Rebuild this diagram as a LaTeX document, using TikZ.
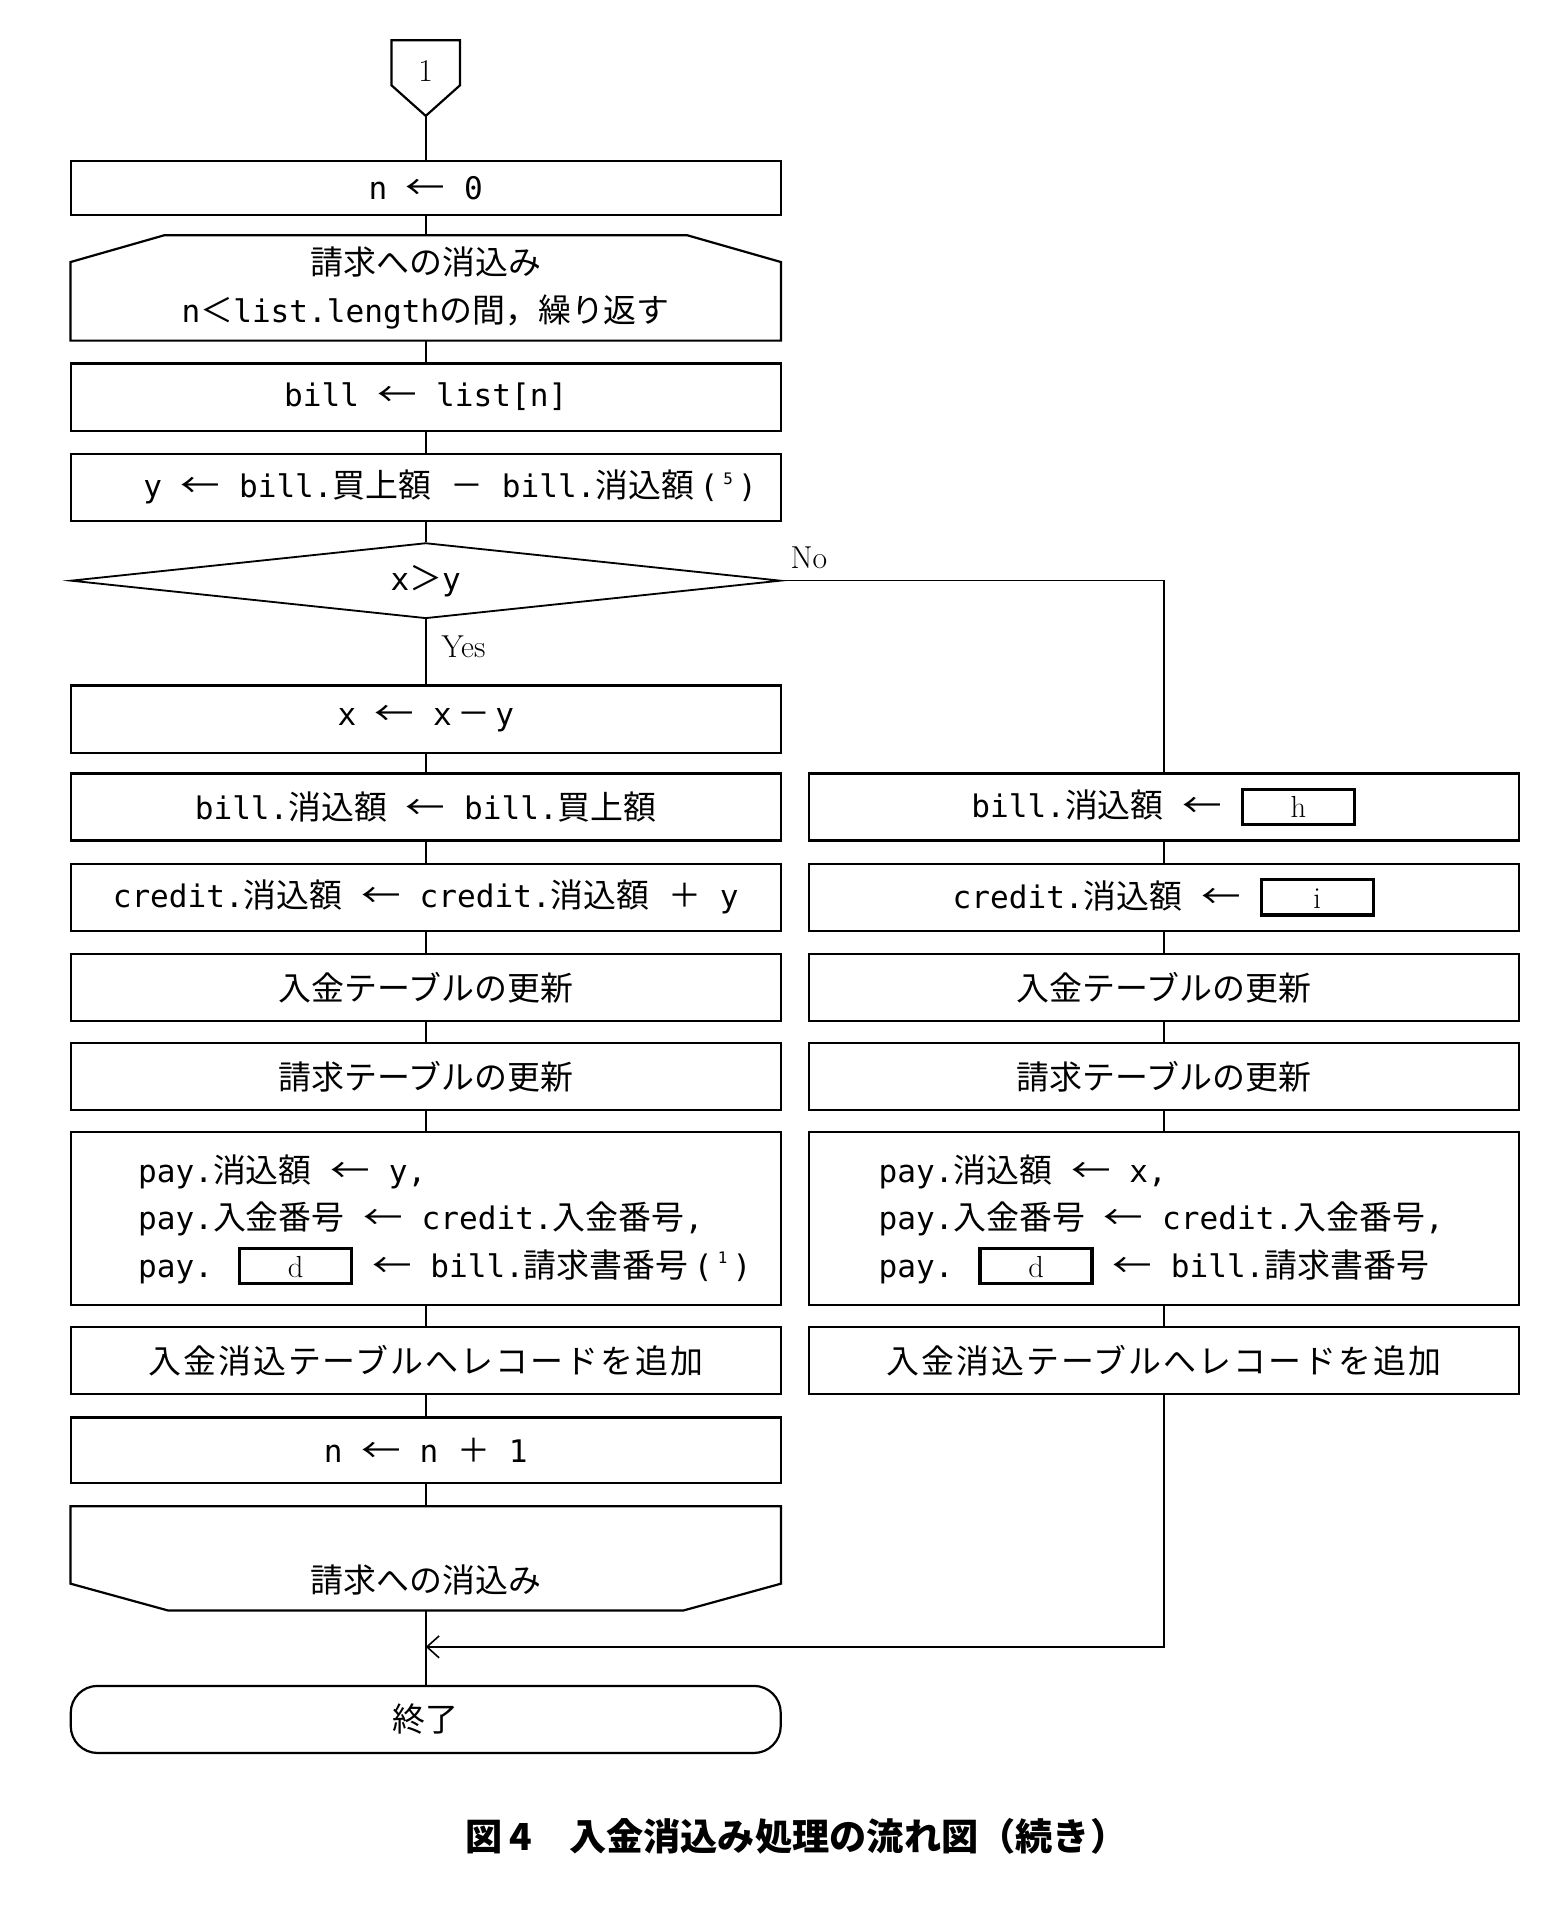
\documentclass[tikz,border=0pt]{standalone}
\usepackage{fontspec}
\usepackage{graphicx}
\usetikzlibrary{shapes.geometric,calc,arrows.meta}
\newfontfamily\jpfont{Noto Sans CJK JP}
\newfontfamily\jpwide{Noto Sans CJK JP}[LetterSpace=6]
\newfontfamily\monofont{DejaVu Sans Mono}
\newcommand\J[1]{{\jpfont\fontsize{27}{39}\selectfont #1}}
\newcommand\la{\scalebox{1.2}[1]{\J{←}}}
\newcommand\codefont{\monofont\fontsize{25.5}{39}\selectfont}
\newcommand\blank[1]{{\setlength{\fboxrule}{2.8pt}\setlength{\fboxsep}{0pt}\fbox{\makebox[89pt]{\rule[-4pt]{0pt}{26pt}\fontsize{25}{25}\selectfont\rmfamily #1}}}}
\newcommand\note[1]{\,(\,\raisebox{11pt}{\fontsize{13}{13}\selectfont #1}\,)}
\begin{document}
\begin{tikzpicture}[x=1pt,y=-1pt,
  box/.style={draw,line width=1.8pt,minimum width=582pt,inner sep=0pt,font=\codefont},
  shapeline/.style={line width=1.8pt},
  conn/.style={line width=1.3pt},
  lbl/.style={font=\rmfamily\fontsize{26}{26}\selectfont,inner sep=0pt},
  txt/.style={font=\codefont,inner sep=0pt}]
\useasboundingbox (0,0) rectangle (1267,1569);

% connector 1
\node[lbl] (c1) at (349,58) {1};
\draw[shapeline] ($(c1)+(-28,-25)$) -- ($(c1)+(28,-25)$) -- ($(c1)+(28,12)$) -- ($(c1)+(0,37)$) coordinate (c1tip) -- ($(c1)+(-28,12)$) -- cycle;

\node[box,minimum height=44pt] (n0) at (349,154) {n \la{} 0};

% loop start
\node[txt,minimum width=582pt,minimum height=86pt,align=center] (loopA) at (349,236) {\J{請求への消込み}\\n\J{＜}list.length\J{の間，繰り返す}};
\draw[shapeline] (loopA.south west) -- ($(loopA.north west)+(0,22)$) -- ($(loopA.north west)+(77,0)$) -- ($(loopA.north east)+(-77,0)$) -- ($(loopA.north east)+(0,22)$) -- (loopA.south east) -- cycle;

\node[box,minimum height=55pt] (bl) at (349,325.5) {bill \la{} list[n]};
\node[box,minimum height=55pt] (by) at (349,399.5) {\hspace*{40pt}y \la{} bill.\J{買上額} \J{－} bill.\J{消込額}\note{5}};

\node[draw,diamond,aspect=10,minimum width=582pt,minimum height=62pt,inner sep=0pt,line width=1.5pt,font=\codefont] (dec) at (349,476) {x\J{＞}y};
\node[lbl] (no) at (663,457) {No};
\node[lbl] (yes) at (380,530) {Yes};

\node[box,minimum height=55pt] (bx) at (349,589.5) {x \la{} x\,\J{－}\,y};

% left column
\node[box,minimum height=55pt] (L1) at (349,661.5) {bill.\J{消込額} \la{} bill.\J{買上額}};
\node[box,minimum height=55pt] (L2) at (349,735.5) {credit.\J{消込額} \la{} credit.\J{消込額} \J{＋} y};
\node[box,minimum height=55pt] (L3) at (349,809.5) {\J{入金テーブルの更新}};
\node[box,minimum height=55pt] (L4) at (349,882.5) {\J{請求テーブルの更新}};
\node[box,minimum height=142pt] (L5) at (349,999) {};
\node[txt,align=left,anchor=west] (L5t) at (113,1000) {pay.\J{消込額} \la{} y,\\pay.\J{入金番号} \la{} credit.\J{入金番号},\\pay. \blank{d} \la{} bill.\J{請求書番号}\note{1}};
\node[box,minimum height=55pt] (L6) at (349,1115.5) {{\jpwide\fontsize{27}{39}\selectfont 入金消込テーブルへレコードを追加}};
\node[box,minimum height=54pt] (L7) at (349,1189) {n \la{} n \J{＋} 1};

% loop end
\node[minimum width=582pt,minimum height=85pt,inner sep=0pt] (loopB) at (349,1277.5) {};
\draw[shapeline] (loopB.north west) -- (loopB.north east) -- ($(loopB.south east)+(0,-22)$) -- ($(loopB.south east)+(-80,0)$) -- ($(loopB.south west)+(80,0)$) -- ($(loopB.south west)+(0,-22)$) -- cycle;
\node[txt] (loopBt) at (349,1295) {\J{請求への消込み}};

\node[draw,line width=1.8pt,rounded corners=22pt,minimum width=582pt,minimum height=55pt,font=\codefont] (term) at (349,1409.5) {\J{終了}};

% right column
\node[box,minimum height=55pt] (R1) at (954,661.5) {bill.\J{消込額} \la{} \blank{h}};
\node[box,minimum height=55pt] (R2) at (954,735.5) {credit.\J{消込額} \la{} \blank{i}};
\node[box,minimum height=55pt] (R3) at (954,809.5) {\J{入金テーブルの更新}};
\node[box,minimum height=55pt] (R4) at (954,882.5) {\J{請求テーブルの更新}};
\node[box,minimum height=142pt] (R5) at (954,999) {};
\node[txt,align=left,anchor=west] (R5t) at (720,1000) {pay.\J{消込額} \la{} x,\\pay.\J{入金番号} \la{} credit.\J{入金番号},\\pay. \blank{d} \la{} bill.\J{請求書番号}};
\node[box,minimum height=55pt] (R6) at (954,1115.5) {{\jpwide\fontsize{27}{39}\selectfont 入金消込テーブルへレコードを追加}};

\coordinate (m) at (349,1350);

% connectors
\draw[conn] (c1tip) -- (n0.north);
\draw[conn] (n0.south) -- (loopA.north);
\draw[conn] (loopA.south) -- (bl.north);
\draw[conn] (bl.south) -- (by.north);
\draw[conn] (by.south) -- (dec.north);
\draw[conn] (dec.south) -- (bx.north);
\draw[conn] (bx.south) -- (L1.north);
\draw[conn] (L1.south) -- (L2.north);
\draw[conn] (L2.south) -- (L3.north);
\draw[conn] (L3.south) -- (L4.north);
\draw[conn] (L4.south) -- (L5.north);
\draw[conn] (L5.south) -- (L6.north);
\draw[conn] (L6.south) -- (L7.north);
\draw[conn] (L7.south) -- (loopB.north);
\draw[conn] (loopB.south) -- (term.north);
\draw[conn] (dec.east) -| (R1.north);
\draw[conn] (R1.south) -- (R2.north);
\draw[conn] (R2.south) -- (R3.north);
\draw[conn] (R3.south) -- (R4.north);
\draw[conn] (R4.south) -- (R5.north);
\draw[conn] (R5.south) -- (R6.north);
\draw[conn,-{Straight Barb[length=10pt,width=18pt,line width=1.3pt]}] (R6.south) |- (m);

\node[font=\jpfont\bfseries\fontsize{30.5}{30.5}\selectfont,inner sep=0pt] (cap) at (653,1505) {図\,4　入金消込み処理の流れ図（続き）};
\end{tikzpicture}
\end{document}
